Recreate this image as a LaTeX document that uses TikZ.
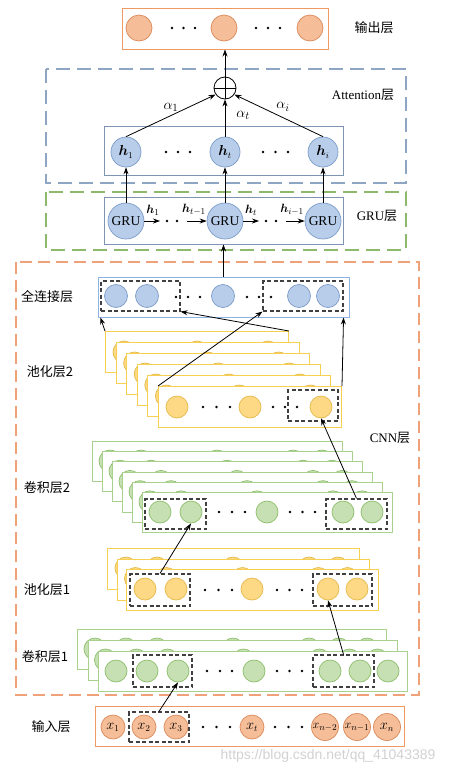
\documentclass[tikz,border=0pt]{standalone}
\usepackage{fontspec}
\setmainfont{Liberation Serif}
\newfontfamily\cjk{Noto Sans CJK SC}
\newfontfamily\wmfont{Liberation Sans}
\usepackage{bm}
\usetikzlibrary{arrows.meta,calc}
\definecolor{oS}{HTML}{ED9A63}
\definecolor{oF}{HTML}{F6BE98}
\definecolor{oC}{HTML}{D9895A}
\definecolor{bF}{HTML}{B7CDEA}
\definecolor{bC}{HTML}{7C9CC8}
\definecolor{bBox}{HTML}{7F93B2}
\definecolor{fcS}{HTML}{8DB3E2}
\definecolor{attnS}{HTML}{8EA6C4}
\definecolor{gruS}{HTML}{8DB96B}
\definecolor{cnnS}{HTML}{EFA27A}
\definecolor{gF}{HTML}{C6E0B4}
\definecolor{gC}{HTML}{8CBF6A}
\definecolor{gS}{HTML}{A9D18E}
\definecolor{yF}{HTML}{FDD985}
\definecolor{yC}{HTML}{E5BA4A}
\definecolor{yS}{HTML}{F7CF52}
\definecolor{dS}{HTML}{404040}
\begin{document}
\begin{tikzpicture}[x=1pt,y=-1pt,
  lbl/.style={font=\cjk\fontsize{13}{15}\selectfont, inner sep=0},
  box/.style={draw, rectangle, inner sep=0, line width=1pt, fill=white},
  obox/.style={box, draw=oS},
  hbox/.style={box, draw=bBox},
  outer/.style={draw, dash pattern=on 14pt off 7pt, line width=1.3pt},
  dbox/.style={draw=dS, rectangle, inner sep=0, dash pattern=on 4pt off 2.5pt, line width=1.1pt},
  ocirc/.style={circle, draw=oC, fill=oF, inner sep=0, minimum size=24pt, line width=0.7pt, font=\fontsize{13.5}{15}\selectfont},
  bcirc/.style={circle, draw=bC, fill=bF, inner sep=0, line width=0.7pt, font=\fontsize{13.5}{15}\selectfont},
  gcirc/.style={circle, draw=gC, fill=gF, inner sep=0, minimum size=22pt, line width=0.7pt},
  ycirc/.style={circle, draw=yC, fill=yF, inner sep=0, minimum size=22pt, line width=0.7pt},
  glay/.style={box, draw=gS, anchor=north west},
  ylay/.style={box, draw=yS, anchor=north west},
  arr/.style={-{Stealth[length=7pt,width=5pt]}, line width=0.8pt},
  dotf/.style={fill=black},
  alab/.style={font=\fontsize{15}{17}\selectfont, inner sep=0},
  hlab/.style={font=\fontsize{12.5}{14}\selectfont, inner sep=0}
]
\useasboundingbox (0,0) rectangle (458,774);

% ---------- outer dashed regions ----------
\draw[outer, draw=attnS] (46,69) rectangle (406,183);
\draw[outer, draw=gruS] (46,192) rectangle (406,250);
\draw[outer, draw=cnnS, dash pattern=on 12pt off 6pt] (16,262) rectangle (419,695);

% ---------- output layer ----------
\node[obox, minimum width=206pt, minimum height=41pt] (outbox) at (225,28.5) {};
\foreach \i/\x in {1/139,2/224,3/310}
  \node[ocirc, minimum size=26pt] (o\i) at (\x,28) {};
\foreach \x in {172,183.5,195,256,268,280} \fill[dotf] (\x,28) circle (1.4pt);
\node[lbl] (outlbl) at (374,28) {输出层};

% ---------- attention ----------
\node[draw, circle, minimum size=22pt, inner sep=0, line width=0.8pt, fill=white] (plus) at (225,88) {};
\draw[line width=0.8pt] (plus.north) -- (plus.south) (plus.west) -- (plus.east);
\node[font=\fontsize{13}{15}\selectfont, inner sep=0] (attlbl) at (363,95) {Attention{\cjk 层}};
\node[hbox, minimum width=239pt, minimum height=49pt] (hbox) at (223.5,150.5) {};
\node[bcirc, minimum size=30pt] (h1) at (126,152) {$\bm{h}_1$};
\node[bcirc, minimum size=30pt] (ht) at (225,152) {$\bm{h}_t$};
\node[bcirc, minimum size=30pt] (hi) at (323,152) {$\bm{h}_i$};
\foreach \x in {166,178,190,263,275.5,288} \fill[dotf] (\x,152) circle (1.4pt);
\draw[arr] (h1.north) -- (plus.215);
\draw[arr] (ht.north) -- (plus.south);
\draw[arr] (hi.north) -- (plus.-35);
\draw[arr] (plus.north) -- (outbox.south);
\node[alab] (a1) at (171,107) {$\alpha_1$};
\node[alab] (at) at (243,115) {$\alpha_t$};
\node[alab] (ai) at (283,107) {$\alpha_i$};

% ---------- GRU ----------
\node[hbox, minimum width=239pt, minimum height=47pt] (grubox) at (223.5,220.5) {};
\foreach \i/\x in {1/126,2/225,3/323}
  \node[bcirc, minimum size=36pt] (g\i) at (\x,221) {GRU};
\draw[arr] (g1.north) -- (h1.south);
\draw[arr] (g2.north) -- (ht.south);
\draw[arr] (g3.north) -- (hi.south);
\coordinate (ga1) at (160,221);
\coordinate (gb1) at (187,221);
\coordinate (ga2) at (259,221);
\coordinate (gb2) at (286,221);
\draw[arr] (g1.east) -- (ga1);
\draw[arr] (gb1) -- (g2.west);
\draw[arr] (g2.east) -- (ga2);
\draw[arr] (gb2) -- (g3.west);
\foreach \x in {167,177,266,276} \fill[dotf] (\x,221) circle (1.4pt);
\node[hlab] (lh1) at (153,210) {$\bm{h}_1$};
\node[hlab] (lht1) at (194,210) {$\bm{h}_{t-1}$};
\node[hlab] (lht) at (251,210) {$\bm{h}_t$};
\node[hlab] (lhi1) at (292,210) {$\bm{h}_{i-1}$};
\node[font=\fontsize{13}{15}\selectfont, inner sep=0] (grulbl) at (377,216) {GRU{\cjk 层}};

% ---------- CNN ----------
\node[font=\fontsize{13}{15}\selectfont, inner sep=0] (cnnlbl) at (390,438) {CNN{\cjk 层}};

% fully connected
\node[box, draw=fcS, minimum width=251pt, minimum height=40pt] (fc) at (223.5,297) {};
\foreach \i/\x in {1/116,2/147,3/223,4/299,5/328}
  \node[bcirc, minimum size=23pt] (f\i) at (\x,296) {};
\node[dbox, minimum width=79pt, minimum height=30pt] (fd1) at (140.5,296) {};
\node[dbox, minimum width=80pt, minimum height=30pt] (fd2) at (303,296) {};
\foreach \x in {176,188,200,247,259,271} \fill[dotf] (\x,297) circle (1.4pt);
\node[lbl] (fclbl) at (47,297) {全连接层};

% pooling 2
\foreach \k in {0,...,5}{
  \pgfmathsetmacro\lx{105+\k*10.6}
  \pgfmathsetmacro\ty{331+\k*11}
  \node[ylay, minimum width=183pt, minimum height=41pt] (p2L\k) at (\lx,\ty) {};
  \foreach \c/\r in {1/19,2/92,3/163}
    \node[ycirc] (p2L\k-\c) at ({\lx+\r},{\ty+21}) {};
}
\foreach \x in {203,216.5,230,273,285,297} \fill[dotf] (\x,407) circle (1.4pt);
\node[dbox, minimum width=50pt, minimum height=31pt] (p2d) at (313,405.5) {};
\node[lbl] (p2lbl) at (50,372) {池化层2};

% conv 2
\foreach \k in {0,...,5}{
  \pgfmathsetmacro\lx{92+\k*10}
  \pgfmathsetmacro\ty{441+\k*10.2}
  \node[glay, minimum width=250pt, minimum height=40pt] (c2L\k) at (\lx,\ty) {};
  \foreach \c/\r in {1/18,2/49,3/125,4/201,5/230}
    \node[gcirc] (c2L\k-\c) at ({\lx+\r},{\ty+20}) {};
}
\foreach \x in {219,232,245,290,302.5,315} \fill[dotf] (\x,512) circle (1.4pt);
\node[dbox, minimum width=61pt, minimum height=30pt] (c2d1) at (175.5,514) {};
\node[dbox, minimum width=61pt, minimum height=30pt] (c2d2) at (356.5,514) {};
\node[lbl] (c2lbl) at (47,488) {卷积层2};

% pooling 1
\foreach \k in {0,...,2}{
  \pgfmathsetmacro\lx{107+\k*9.5}
  \pgfmathsetmacro\ty{548+\k*10.5}
  \node[ylay, minimum width=252pt, minimum height=41pt] (p1L\k) at (\lx,\ty) {};
  \foreach \c/\r in {1/19,2/50,3/126,4/202,5/231}
    \node[ycirc] (p1L\k-\c) at ({\lx+\r},{\ty+20}) {};
}
\foreach \x in {205,218.5,232,277,289.5,302} \fill[dotf] (\x,590) circle (1.4pt);
\node[dbox, minimum width=60pt, minimum height=32pt] (p1d1) at (160,590) {};
\node[dbox, minimum width=59pt, minimum height=32pt] (p1d2) at (342.5,590) {};
\node[lbl] (p1lbl) at (47,590) {池化层1};

% conv 1
\foreach \k in {0,...,2}{
  \pgfmathsetmacro\lx{77+\k*10.5}
  \pgfmathsetmacro\ty{629+\k*11}
  \node[glay, minimum width=309pt, minimum height=40pt] (c1L\k) at (\lx,\ty) {};
  \foreach \c/\r in {1/18,2/49,3/80,4/156,5/232,6/262,7/290}
    \node[gcirc] (c1L\k-\c) at ({\lx+\r},{\ty+20}) {};
}
\foreach \x in {207,220,232,277,289.5,302} \fill[dotf] (\x,671) circle (1.4pt);
\node[dbox, minimum width=59pt, minimum height=32pt] (c1d1) at (162.5,671) {};
\node[dbox, minimum width=61pt, minimum height=32pt] (c1d2) at (343.5,671) {};
\node[lbl] (c1lbl) at (45,657) {卷积层1};

% ---------- input ----------
\node[obox, minimum width=309pt, minimum height=40pt] (inbox) at (249.5,726) {};
\node[ocirc] (x1) at (113,727) {$x_1$};
\node[ocirc] (x2) at (144,727) {$x_2$};
\node[ocirc] (x3) at (176,727) {$x_3$};
\node[ocirc] (xt) at (252,727) {$x_t$};
\node[ocirc, minimum size=27pt, font=\fontsize{12.5}{14}\selectfont] (xn2) at (325,727) {$x_{n-2}$};
\node[ocirc, minimum size=27pt, font=\fontsize{12.5}{14}\selectfont] (xn1) at (357,727) {$x_{n-1}$};
\node[ocirc, minimum size=27pt] (xn) at (387,727) {$x_n$};
\foreach \x in {203,216.5,230,275,288.5,302} \fill[dotf] (\x,727) circle (1.4pt);
\node[dbox, minimum width=60pt, minimum height=30pt] (ind) at (159,727) {};
\node[lbl] (inlbl) at (51,727) {输入层};

% ---------- connectors ----------
\draw[arr] (fc.north) -- (grubox.south);
\draw[arr] (p2L0.north west) -- (fd1.south west |- fc.south);
\draw[arr] (p2L0.north east) -- (fd1.south east);
\draw[arr] (p2L5.north west) -- (fd2.south west);
\draw[arr] (p2L5.north east) -- (fd2.south east |- fc.south);
\draw[arr] (c2d2.north) -- (p2L5-3.south);
\draw[arr] (p1d1.north) -- (c2L5-2.south);
\draw[arr] (c1d2.north) -- (p1L2-4.south);
\draw[arr] (ind.north) -- (c1L2-3.south);

% watermark
\node[font=\wmfont\fontsize{14}{16}\selectfont, text=black!18, inner sep=0] (wm) at (328,756) {https://blog.csdn.net/qq\_41043389};
\end{tikzpicture}
\end{document}
